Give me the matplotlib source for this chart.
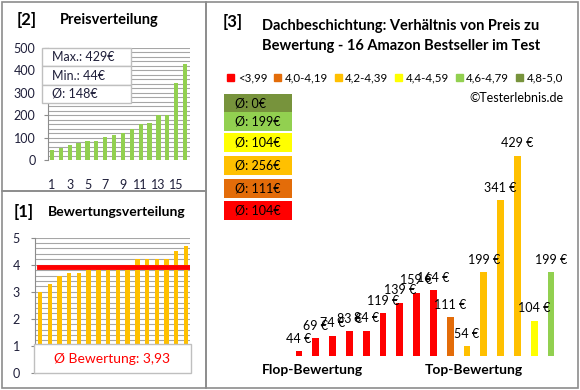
import matplotlib
matplotlib.use('Agg')
import matplotlib.pyplot as plt
from matplotlib.patches import Rectangle
import numpy as np

plt.rcParams['font.family'] = ['Lato', 'DejaVu Sans']

# sorted prices (panel 2)
prices_sorted = [44, 54, 69, 74, 83, 84, 104, 111, 119, 139, 159, 164, 199, 199, 341, 429]
price_ticks = [1, 3, 5, 7, 9, 11, 13, 15]
price_stats = ['Max.: 429€', 'Min.: 44€', 'Ø: 148€']

# sorted ratings (panel 1)
ratings_sorted = [3.0, 3.3, 3.6, 3.7, 3.7, 3.9, 3.9, 3.9, 3.9, 4.0, 4.2, 4.2, 4.2, 4.2, 4.5, 4.7]
rating_mean = 3.93

# main chart (panel 3), ordered by rating
main_prices = [44, 69, 74, 83, 84, 119, 139, 159, 164, 111, 54, 199, 341, 429, 104, 199]
main_groups = [0, 0, 0, 0, 0, 0, 0, 0, 0, 1, 2, 2, 2, 2, 3, 4]
group_labels = ['<3,99', '4,0-4,19', '4,2-4,39', '4,4-4,59', '4,6-4,79', '4,8-5,0']
group_colors = ['#FF0000', '#E36C09', '#FFC000', '#FFFF00', '#92D050', '#77933C']
group_means = ['104€', '111€', '256€', '104€', '199€', '0€']

W, H = 580, 390
fig = plt.figure(figsize=(W / 100, H / 100), dpi=100)

def px(x0, y0, x1, y1):
  return [x0 / W, 1 - y1 / H, (x1 - x0) / W, (y1 - y0) / H]

def fx(x):
  return x / W

def fy(y):
  return 1 - y / H

grey = '#8c8c8c'
dark = '#1f1f3a'

# panel borders
for (x0, y0, x1, y1) in [(2, 2, 206, 191), (2, 191, 206, 388), (206, 2, 578, 388)]:
  fig.patches.append(Rectangle((fx(x0), fy(y1)), fx(x1) - fx(x0), fy(y0) - fy(y1),
                               transform=fig.transFigure, fill=False,
                               edgecolor=grey, lw=1.2))

# ---- panel 2: price distribution
ax = fig.add_axes(px(48, 47.7, 190, 160))
xs = np.arange(1, len(prices_sorted) + 1)
ax.bar(xs, prices_sorted, width=0.48, color='#92D050', zorder=3)
ax.set_xlim(0.55, 16.56)
ax.set_ylim(0, 500)
ax.set_yticks(range(0, 501, 100))
ax.set_yticks(range(0, 501, 20), minor=True)
ax.grid(axis='y', which='both', color='#a6a6a6', lw=0.8, zorder=0)
ax.set_xticks(price_ticks)
ax.tick_params(axis='x', length=0, pad=14, labelsize=9, labelcolor=dark)
ax.tick_params(axis='y', which='major', length=3, color=grey, labelsize=9, labelcolor=dark, pad=6)
ax.tick_params(axis='y', which='minor', length=0)
for s in ['top', 'right', 'bottom']:
  ax.spines[s].set_visible(False)
ax.spines['left'].set_color(grey)

fig.text(fx(17), fy(20), '[2]', fontsize=12, fontweight='bold', va='center')
fig.text(fx(109), fy(20), 'Preisverteilung', fontsize=10.5, fontweight='bold', va='center', ha='center')

# stats box
rows = [48, 66, 85, 103]
for i, label in enumerate(price_stats):
  y0, y1 = rows[i], rows[i + 1]
  fig.patches.append(Rectangle((fx(42), fy(y1)), fx(131) - fx(42), fy(y0) - fy(y1),
                               transform=fig.transFigure, facecolor='white',
                               edgecolor='#bfbfbf', lw=1, zorder=5))
  fig.text(fx(52), fy((y0 + y1) / 2), label, fontsize=9, va='center', color=dark, zorder=6)

# ---- panel 1: rating distribution
ax = fig.add_axes(px(35, 237.7, 190, 372.7))
xs = np.arange(1, len(ratings_sorted) + 1)
ax.bar(xs, ratings_sorted, width=0.45, color='#FFC000', zorder=3)
ax.plot([0.9, 16.2], [rating_mean, rating_mean], color='#FF0000', lw=3.5, zorder=4)
ax.set_xlim(0.49, 16.41)
ax.set_ylim(0, 5)
ax.set_yticks(range(0, 6))
ax.set_yticks(np.arange(0, 5.01, 0.2), minor=True)
ax.grid(axis='y', which='both', color='#a6a6a6', lw=0.8, zorder=0)
ax.set_xticks([])
ax.tick_params(axis='y', which='major', length=3, color=grey, labelsize=9, labelcolor=dark, pad=8)
ax.tick_params(axis='y', which='minor', length=0)
for s in ['top', 'right', 'bottom']:
  ax.spines[s].set_visible(False)
ax.spines['left'].set_color(grey)

fig.patches.append(Rectangle((fx(34), fy(372.7)), fx(191) - fx(34), fy(344) - fy(372.7),
                             transform=fig.transFigure, facecolor='white',
                             edgecolor='#bfbfbf', lw=1, zorder=5))
fig.text(fx(112), fy(359), 'Ø Bewertung: 3,93', fontsize=10, color='#FF0000',
         ha='center', va='center', zorder=6)
fig.text(fx(14), fy(212), '[1]', fontsize=12, fontweight='bold', va='center')
fig.text(fx(48), fy(212), 'Bewertungsverteilung', fontsize=10, fontweight='bold', va='center')

# ---- panel 3: price vs rating
ax = fig.add_axes(px(220, 100, 570, 355.7))
xs = np.arange(len(main_prices))
colors = [group_colors[g] for g in main_groups]
ax.bar(xs, main_prices, width=0.4, color=colors)
for x, v in zip(xs, main_prices):
  ax.annotate(f'{v} €', (x, v), xytext=(0, 9), textcoords='offset points',
              ha='center', va='center', fontsize=9, color='black')
ax.set_xlim(-4.70, 16.13)
ax.set_ylim(35, 539)
ax.axis('off')

fig.text(fx(223), fy(22), '[3]', fontsize=12, fontweight='bold', va='center')
fig.text(fx(401), fy(36), 'Dachbeschichtung: Verhältnis von Preis zu\nBewertung - 16 Amazon Bestseller im Test',
         fontsize=10.5, fontweight='bold', ha='center', va='center', linespacing=1.5)

handles = [Rectangle((0, 0), 1, 1, color=c) for c in group_colors]
fig.legend(handles, group_labels, loc='center', bbox_to_anchor=(fx(395), fy(78)),
           ncol=6, frameon=False, fontsize=8.3, handlelength=0.6, handleheight=0.6,
           handletextpad=0.3, columnspacing=0.6, borderpad=0)

fig.text(fx(563), fy(98), '©Testerlebnis.de', fontsize=9, ha='right', va='center')

box_top = [94, 112, 133, 156, 179, 201]
for i, top in enumerate(box_top):
  g = len(group_colors) - 1 - i
  fig.patches.append(Rectangle((fx(224), fy(top + 19)), fx(292) - fx(224), fy(top) - fy(top + 19),
                               transform=fig.transFigure, facecolor=group_colors[g], lw=0))
  fig.text(fx(235), fy(top + 9.5), 'Ø: ' + group_means[g], fontsize=9, va='center')

fig.text(fx(312), fy(370), 'Flop-Bewertung', fontsize=10, fontweight='bold', ha='center', va='center')
fig.text(fx(474), fy(370), 'Top-Bewertung', fontsize=10, fontweight='bold', ha='center', va='center')

fig.savefig('out.png', dpi=100)
